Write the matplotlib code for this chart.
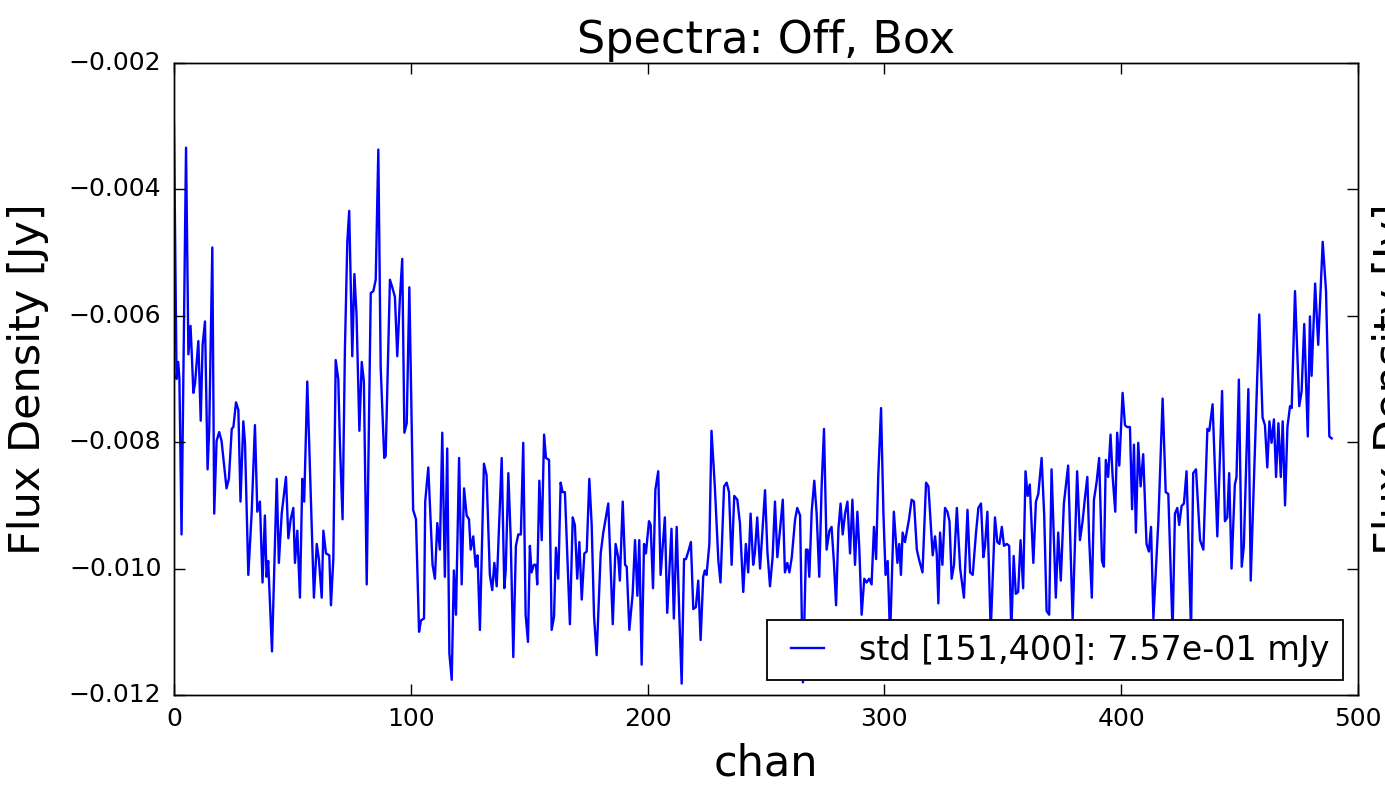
import numpy as np
import matplotlib
matplotlib.use('Agg')
import matplotlib.pyplot as plt

plt.style.use('classic')

# spectrum vertices: (channel, flux in mJy)
spec_000 = [(0.0, -2.95), (1.1, -7.00), (1.8, -6.73), (2.3, -7.00), (3.2, -9.46), (5.1, -3.34),
            (6.1, -6.61), (7.0, -6.16), (7.5, -6.58), (8.2, -7.22), (8.9, -7.07), (10.3, -6.40),
            (11.3, -7.66), (12.1, -6.46), (13.1, -6.09), (14.2, -8.43), (14.9, -7.79), (16.2, -4.92),
            (17.0, -9.13), (18.0, -7.98), (19.1, -7.84), (20.1, -7.98), (22.2, -8.73), (23.2, -8.58),
            (24.4, -7.79), (25.1, -7.76), (26.2, -7.37), (27.2, -7.49), (28.1, -8.94), (29.3, -7.67),
            (30.0, -8.01), (31.4, -10.10), (32.8, -9.13), (34.2, -7.73), (35.2, -9.10), (36.3, -8.94),
            (37.4, -10.22), (38.4, -9.16), (39.1, -10.13), (39.8, -9.88), (41.4, -11.31), (43.4, -8.58),
            (44.3, -9.91), (45.5, -9.13), (47.3, -8.55), (48.3, -9.52), (49.3, -9.22), (50.4, -9.04),
            (51.1, -9.91), (52.1, -9.40), (53.2, -10.46), (54.2, -8.58), (55.0, -8.94), (56.3, -7.04),
            (57.7, -8.76), (59.1, -10.46), (60.3, -9.61), (61.2, -9.85), (62.4, -10.46), (63.1, -9.40),
            (64.2, -9.76), (65.6, -9.79), (66.3, -10.58), (67.3, -9.85), (68.3, -6.70), (69.4, -7.01),
            (70.1, -8.04), (71.2, -9.22), (72.2, -6.52), (73.2, -4.83), (74.0, -4.34), (75.3, -6.64),
            (76.2, -5.34), (77.1, -5.98), (78.3, -7.82), (79.3, -6.73), (80.2, -7.04), (81.4, -10.25),
            (83.1, -5.64), (84.2, -5.61), (85.2, -5.43), (86.3, -3.37), (87.3, -6.82), (88.8, -8.25),
            (89.4, -8.22), (91.2, -5.43), (92.2, -5.55), (93.3, -5.70), (94.3, -6.64), (95.4, -5.73),
            (96.4, -5.10), (97.3, -7.85), (98.3, -7.70), (99.4, -5.55)]

spec_100 = [(101.0, -9.07), (102.2, -9.22), (103.5, -11.00), (104.3, -10.82), (105.6, -10.79),
            (106.1, -8.94), (107.4, -8.40), (109.2, -9.94), (110.2, -10.16), (111.2, -9.28),
            (112.3, -9.70), (113.3, -7.85), (114.4, -10.13), (115.4, -8.10), (116.3, -11.34),
            (117.3, -11.76), (118.2, -10.03), (119.1, -10.73), (120.4, -8.25), (121.5, -10.25),
            (122.5, -8.73), (123.6, -9.16), (124.6, -9.22), (125.3, -9.70), (126.4, -9.49),
            (127.4, -9.97), (128.2, -9.79), (129.2, -10.97), (130.9, -8.34), (132.0, -8.52),
            (133.4, -10.10), (134.4, -10.34), (135.3, -9.91), (136.3, -10.28), (138.4, -8.25),
            (139.5, -10.31), (140.1, -10.03), (141.2, -8.49), (142.2, -9.52), (143.3, -11.40),
            (144.4, -9.64), (145.4, -9.46), (146.5, -9.46), (147.5, -8.01), (148.5, -10.73),
            (149.5, -11.16), (150.3, -9.64), (151.0, -10.06), (152.0, -9.94), (152.9, -9.94),
            (153.4, -10.25), (154.3, -8.61), (155.3, -9.55), (156.3, -7.88), (157.1, -8.25),
            (158.4, -8.28), (159.5, -10.97), (160.5, -10.76), (161.3, -9.67), (162.3, -10.16),
            (163.3, -8.64), (164.1, -8.79), (165.1, -8.79), (167.2, -10.88), (168.4, -9.19),
            (169.3, -9.31), (170.3, -10.16), (171.2, -9.58), (172.2, -10.49), (173.3, -9.76),
            (174.3, -9.73), (175.4, -8.58), (176.4, -9.31), (177.4, -10.76), (178.5, -11.37),
            (180.2, -9.76), (181.3, -9.43), (183.4, -8.97), (185.3, -10.88), (186.5, -9.61),
            (187.6, -9.82), (188.3, -10.19), (189.5, -8.94), (190.5, -9.94), (191.2, -9.97),
            (192.3, -10.97), (193.7, -10.40), (194.7, -9.55), (195.7, -10.43), (196.5, -9.55),
            (197.5, -11.52), (198.5, -9.61), (199.3, -9.76)]

spec_200 = [(200.6, -9.25), (201.3, -9.31), (202.3, -10.31), (203.3, -8.75), (204.5, -8.46),
            (205.5, -10.10), (206.3, -9.70), (207.3, -9.19), (208.3, -10.70), (210.1, -9.37),
            (211.1, -10.79), (212.3, -9.34), (213.4, -10.73), (214.4, -11.82), (215.4, -9.85),
            (216.2, -9.85), (217.2, -9.73), (218.3, -9.58), (219.3, -10.64), (220.4, -10.61),
            (221.4, -10.19), (222.4, -11.13), (223.5, -10.13), (224.2, -10.03), (224.9, -10.10),
            (226.1, -9.61), (227.0, -7.82), (228.4, -8.70), (229.9, -9.88), (230.8, -10.22),
            (232.3, -8.70), (233.4, -8.64), (234.4, -8.79), (235.5, -9.94), (236.6, -8.85),
            (237.9, -8.91), (239.0, -9.28), (240.4, -10.37), (241.5, -9.61), (242.5, -10.06),
            (243.5, -9.13), (244.6, -9.94), (245.3, -9.76), (246.3, -9.19), (247.5, -10.00),
            (248.4, -9.46), (249.6, -8.76), (250.6, -9.73), (251.7, -10.28), (252.8, -9.82),
            (253.8, -8.94), (254.8, -9.82), (255.9, -9.40), (257.1, -8.91), (258.0, -10.06),
            (259.0, -9.91), (259.9, -10.06), (260.9, -9.82), (262.3, -9.22), (263.2, -9.04),
            (264.4, -9.16), (265.6, -11.80), (266.9, -9.70), (267.6, -9.70), (268.3, -10.13),
            (269.3, -9.10), (270.4, -8.61), (271.4, -9.13), (272.5, -10.13), (273.5, -8.70),
            (274.5, -7.79), (275.6, -9.70), (276.8, -9.40), (277.7, -9.34), (278.7, -9.91),
            (279.6, -10.58), (280.6, -9.37), (281.5, -8.97), (282.4, -9.46), (283.4, -9.13),
            (284.4, -8.94), (285.5, -9.76), (286.5, -8.91), (287.6, -9.94), (288.6, -9.10),
            (289.4, -9.67), (290.4, -10.73), (291.5, -10.16), (292.5, -10.22), (293.6, -10.16),
            (294.6, -10.25), (295.6, -9.34), (296.5, -9.85), (297.4, -8.55), (298.6, -7.46),
            (299.6, -9.13)]

spec_300 = [(300.5, -10.10), (301.4, -9.88), (302.4, -11.10), (304.0, -9.10), (305.5, -9.91),
            (306.3, -9.61), (307.0, -10.10), (307.7, -9.43), (308.7, -9.58), (309.4, -9.43),
            (310.4, -9.22), (311.5, -8.91), (312.5, -8.94), (313.7, -9.70), (314.6, -9.85),
            (316.1, -10.06), (317.6, -8.64), (318.6, -8.70), (319.6, -9.31), (320.4, -9.79),
            (321.4, -9.49), (322.1, -9.76), (322.8, -10.55), (323.5, -9.43), (324.5, -9.94),
            (325.6, -9.04), (326.6, -9.10), (327.5, -9.25), (328.4, -10.16), (329.4, -9.94),
            (330.6, -9.04), (332.0, -10.00), (333.6, -10.46), (335.1, -9.07), (336.2, -10.06),
            (337.3, -10.10), (338.7, -9.43), (339.7, -9.04), (340.8, -8.97), (341.8, -9.82),
            (342.5, -9.64), (343.5, -9.10), (344.9, -11.00), (346.7, -9.19), (347.7, -9.58),
            (348.6, -9.61), (349.6, -9.34), (350.5, -9.64), (351.7, -9.61), (352.7, -9.64),
            (353.6, -11.00), (354.6, -9.80), (355.5, -10.40), (356.5, -10.37), (357.5, -9.55),
            (358.6, -10.31), (359.6, -8.46), (360.5, -8.85), (361.4, -8.67), (362.9, -9.91),
            (364.0, -8.94), (365.0, -8.82), (366.4, -8.25), (367.5, -9.16), (368.5, -10.67),
            (369.6, -10.73), (370.6, -8.43), (372.4, -10.46), (373.4, -9.43), (374.5, -10.19),
            (375.8, -8.97), (377.6, -8.37), (379.5, -10.82), (381.4, -8.46), (382.6, -9.55),
            (383.7, -9.25), (384.7, -8.88), (385.7, -8.55), (386.5, -9.55), (387.6, -10.46),
            (388.5, -8.91), (389.6, -8.64), (390.7, -8.25), (391.9, -9.88), (392.7, -9.97),
            (393.5, -8.28), (394.5, -8.55), (395.5, -7.88), (396.4, -8.55), (397.5, -9.10),
            (398.3, -7.85), (399.2, -8.37)]

spec_400 = [(400.6, -7.22), (401.6, -7.73), (402.5, -7.76), (403.7, -7.76), (404.6, -9.06),
            (405.4, -8.04), (406.2, -9.43), (407.2, -8.01), (408.2, -8.70), (409.3, -8.19),
            (410.7, -9.61), (411.7, -9.73), (412.6, -9.34), (413.6, -10.79), (415.7, -9.25),
            (417.5, -7.31), (418.8, -8.79), (419.9, -8.82), (421.7, -11.00), (422.7, -9.13),
            (423.7, -9.04), (424.5, -9.31), (425.5, -9.01), (426.5, -8.97), (427.6, -8.46),
            (429.5, -11.00), (430.4, -8.49), (431.6, -8.43), (433.3, -9.55), (434.7, -9.70),
            (436.4, -7.79), (437.2, -7.82), (438.6, -7.40), (440.6, -9.49), (442.6, -7.19),
            (443.8, -9.25), (444.8, -9.19), (445.6, -8.49), (446.6, -10.00), (448.0, -8.67),
            (448.7, -8.55), (449.7, -7.01), (450.9, -9.97), (451.8, -9.64), (453.7, -7.16),
            (454.7, -10.19), (458.3, -5.98), (459.7, -7.61), (460.7, -7.73), (461.7, -8.40),
            (462.6, -7.67), (463.5, -8.01), (464.5, -7.64), (465.4, -8.55), (466.4, -7.70),
            (467.4, -8.55), (468.2, -7.67), (469.2, -9.00), (470.2, -7.76), (471.3, -7.43),
            (472.0, -7.46), (473.4, -5.61), (475.2, -7.43), (476.2, -7.19), (477.3, -6.13),
            (478.8, -7.91), (479.7, -6.01), (480.4, -6.95), (481.9, -5.49), (483.2, -6.46),
            (485.1, -4.83), (486.5, -5.61), (487.9, -7.91), (488.9, -7.94)]

std_mjy = 0.757
std_range = (151, 400)

spec = np.array(spec_000 + spec_100 + spec_200 + spec_300 + spec_400)
chan = spec[:, 0]
flux = spec[:, 1] * 1e-3   # mJy -> Jy

fig = plt.figure(figsize=(13.85, 7.87), dpi=100, facecolor='white')
ax = fig.add_axes([0.1256, 0.1169, 0.8549, 0.8031])

label = 'std [%d,%d]: %.2e mJy' % (std_range[0], std_range[1], std_mjy)
ax.plot(chan, flux, color='b', lw=1.7, label=label)

ax.set_xlim(0, 500)
ax.set_ylim(-0.012, -0.002)
ax.set_xticks([0, 100, 200, 300, 400, 500])
ax.set_yticks(np.arange(-0.012, -0.0019, 0.002))
ax.tick_params(labelsize=18, length=8, width=1, pad=9)

ax.set_title('Spectra: Off, Box', fontsize=32, y=1.005)
ax.set_xlabel('chan', fontsize=31, labelpad=8)
ax.set_ylabel('Flux Density [Jy]', fontsize=31, labelpad=14)

# right-hand axis carries only the label
ax2 = ax.twinx()
ax2.set_ylim(ax.get_ylim())
ax2.set_yticks(ax.get_yticks())
ax2.set_yticklabels([])
ax2.tick_params(length=8, width=1)
ax2.set_ylabel('Flux Density [Jy]', fontsize=31, labelpad=6)

leg = ax.legend(loc='lower right', fontsize=24, handlelength=1.6,
                handletextpad=0.75, borderaxespad=0.45, borderpad=0.4)
leg.get_frame().set_linewidth(1.3)

fig.savefig('out.png', dpi=100, facecolor='white')
